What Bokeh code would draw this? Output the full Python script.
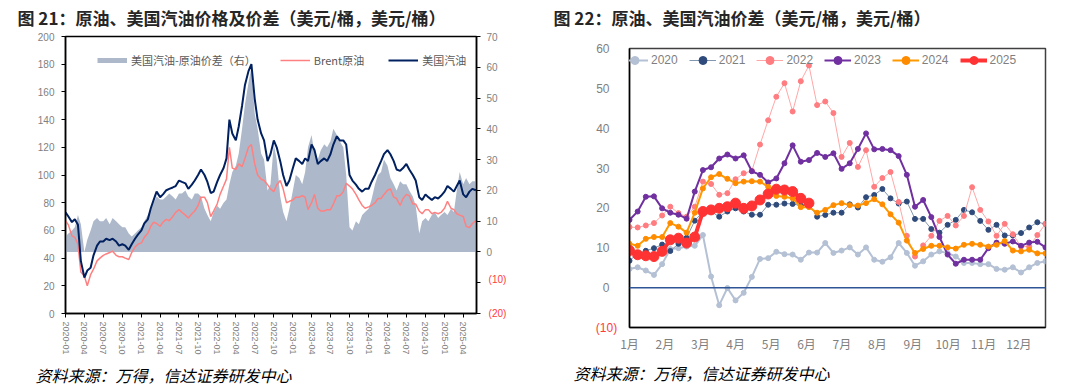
import pandas as pd
from bokeh.plotting import figure
from bokeh.models import (Range1d, LinearAxis, FixedTicker, DatetimeTickFormatter,
                          Legend, LegendItem, Span, Title)
from bokeh.layouts import row, column
from bokeh.embed import file_html
from bokeh.resources import INLINE

# ---------------- Left chart data (semi-monthly, 2020-01-01 .. 2025-06-01) ----------------
dates = pd.date_range("2020-01-01", "2025-06-01", freq="SMS")

gasoline = [
    73, 70, 66, 68, 64, 38, 26, 31, 33, 42, 49, 52, 52, 54, 53, 54, 52, 49, 50, 49, 46, 50, 54, 57,
    60, 65, 68, 76, 82, 88, 84, 86, 89, 90, 91, 92, 96, 95, 94, 90, 93, 96, 100, 104, 100, 95, 87, 88,
    95, 100, 105, 112, 140, 130, 125, 135, 150, 165, 175, 180, 155, 140, 130, 125, 110, 115, 125, 120, 110, 100, 92, 96,
    105, 112, 110, 108, 112, 110, 122, 118, 108, 110, 112, 110, 115, 122, 128, 125, 125, 122, 100, 96, 93, 90, 88, 90,
    90, 95, 100, 105, 110, 115, 118, 115, 110, 104, 103, 105, 108, 104, 100, 96, 84, 82, 86, 84, 82, 84, 83, 85,
    88, 92, 90, 88, 92, 96, 86, 84, 88, 90, 89,
]
brent = [
    67, 64, 56, 55, 50, 30, 27, 20, 28, 32, 38, 40, 42, 43, 44, 45, 42, 41, 41, 40, 39, 44, 48, 50,
    51, 55, 58, 63, 66, 65, 63, 66, 68, 67, 70, 73, 75, 73, 71, 69, 72, 74, 78, 84, 84, 80, 70, 74,
    79, 86, 92, 97, 120, 105, 104, 108, 106, 112, 120, 122, 108, 100, 97, 96, 93, 90, 88, 93, 96, 90, 80, 81,
    82, 84, 84, 85, 84, 75, 80, 86, 76, 74, 74, 75, 75, 79, 85, 85, 88, 94, 92, 90, 86, 82, 78, 76,
    77, 78, 80, 83, 83, 86, 89, 90, 84, 83, 78, 83, 86, 85, 79, 79, 74, 72, 75, 75, 72, 73, 72, 73,
    76, 81, 76, 75, 72, 71, 70, 63, 62, 65, 67,
]
spread = [
    5, 6, 7, 8, 12, 9, 0, 4, 7, 10, 11, 10, 10, 11, 9, 11, 10, 9, 8, 8, 6, 5, 6, 7,
    8, 10, 12, 14, 16, 18, 17, 17, 18, 19, 18, 17, 19, 19, 20, 18, 17, 19, 19, 18, 14, 12, 10, 13,
    15, 14, 16, 17, 22, 26, 28, 32, 40, 48, 55, 60, 45, 40, 32, 30, 20, 22, 35, 30, 18, 13, 10, 14,
    20, 25, 24, 22, 26, 34, 38, 32, 30, 33, 35, 34, 36, 40, 38, 36, 34, 25, 8, 7, 10, 9, 12, 13,
    14, 17, 22, 25, 26, 30, 28, 24, 22, 20, 23, 22, 22, 20, 18, 15, 6, 10, 11, 10, 12, 13, 11, 12,
    13, 12, 14, 13, 20, 26, 22, 24, 22, 23, 23,
]
quarter_ticks = pd.date_range("2020-01-01", "2025-04-01", freq="QS")

# ---------------- Right chart data (weekly spread by year) ----------------
week = list(range(52))
month_labels = ["1月", "2月", "3月", "4月", "5月", "6月", "7月", "8月", "9月", "10月", "11月", "12月"]
y2020 = [4.7, 5.1, 4.3, 3.2, 5.9, 9.7, 9.9, 10.3, 10.5, 13.2, 2.8, -4.4, -0.1, -3.2, -1.3, 2.7, 7.2, 7.4, 9.0, 8.4,
         8.3, 7.0, 8.8, 8.8, 11.2, 8.7, 9.3, 10.1, 8.3, 10.1, 7.0, 6.5, 7.6, 11.2, 8.7, 5.5, 6.6, 8.3, 9.1, 8.7,
         7.8, 6.2, 6.2, 5.9, 5.9, 4.7, 4.5, 5.1, 3.8, 5.1, 6.2, 6.6]
y2021 = [6.75, 8.6, 9.25, 9.9, 10.8, 9.2, 11.0, 12.5, 16.8, 19.1, 19.1, 17.8, 19.1, 19.9, 19.1, 18.3, 18.3, 20.8, 20.8, 21.1,
         21.0, 20.6, 21.0, 17.8, 18.25, 18.8, 18.8, 20.9, 20.1, 22.7, 23.25, 24.75, 22.4, 21.1, 21.6, 17.25, 17.25, 14.7, 13.8, 15.75,
         17.0, 19.5, 18.9, 16.75, 14.5, 15.75, 13.1, 13.1, 13.7, 15.1, 16.4, 16.0]
y2022 = [15.2, 15.1, 15.6, 16.2, 18.1, 20.3, 18.7, 17.8, 20.3, 26.6, 26.0, 23.3, 23.7, 27.2, 28.7, 29.3, 35.9, 42.0, 47.9, 51.3,
         44.2, 51.8, 55.75, 45.8, 46.7, 43.8, 32.8, 36.3, 30.3, 34.5, 25.3, 27.5, 29.0, 21.5, 13.0, 7.8, 10.6, 13.0, 16.75, 18.0,
         15.6, 18.0, 25.2, 19.5, 16.6, 13.0, 16.0, 13.4, 10.3, 10.3, 13.2, 16.0]
y2023 = [17.0, 19.1, 22.8, 22.9, 19.9, 18.8, 18.3, 17.3, 24.1, 29.5, 30.2, 32.4, 33.4, 32.4, 33.2, 29.2, 28.3, 26.4, 27.4, 31.2,
         35.7, 31.6, 32.0, 33.8, 32.8, 33.7, 29.8, 31.2, 34.8, 38.7, 34.7, 34.8, 34.5, 33.0, 28.3, 20.3, 22.0, 17.7, 12.7, 8.3,
         6.0, 7.0, 7.0, 7.0, 9.9, 11.3, 11.0, 11.6, 10.5, 11.3, 11.5, 10.1]
y2024 = [11.0, 10.5, 12.25, 12.7, 12.7, 16.2, 15.3, 13.8, 18.8, 24.9, 27.7, 28.5, 27.3, 26.2, 26.6, 26.7, 26.6, 25.3, 23.0, 22.8,
         22.4, 20.2, 20.2, 18.8, 19.5, 20.7, 21.2, 20.7, 20.6, 21.2, 22.2, 20.9, 18.4, 16.3, 11.8, 8.7, 9.7, 10.5, 10.5, 10.1,
         9.8, 10.75, 11.0, 10.75, 10.3, 10.75, 11.7, 9.3, 9.1, 9.5, 8.6, 8.6]
y2025 = [9.3, 8.25, 8.0, 7.8, 9.1, 12.0, 12.4, 11.2, 12.7, 19.1, 19.5, 19.9, 20.3, 21.2, 19.9, 20.5, 22.0, 23.5, 24.7, 24.5,
         24.1, 22.4, 21.2]

TITLE1 = "图 21：原油、美国汽油价格及价差（美元/桶，美元/桶）"
TITLE2 = "图 22：原油、美国汽油价差（美元/桶，美元/桶）"
SOURCE = "资料来源：万得，信达证券研发中心"

GRAY_TXT = "#7F7F7F"
RED_TXT = "#FF3B3B"
NUM_FONT = "Liberation Sans"
CJK_FONT = "Noto Sans CJK SC"


def spacer_axis(px, tick):
    """Invisible top axis with one hidden tick, reserving `px` pixels between frame and title."""
    return LinearAxis(ticker=FixedTicker(ticks=[tick]), major_label_overrides={tick: ""},
                      axis_line_color=None, major_tick_line_color=None, minor_tick_line_color=None,
                      major_tick_in=0, major_tick_out=px, minor_tick_out=0,
                      major_label_standoff=0, major_label_text_font_size="1px")


def style_title(p, text, offset):
    p.title.text = text
    p.title.text_font = CJK_FONT
    p.title.text_font_size = "17px"
    p.title.text_font_style = "bold"
    p.title.text_color = "#262626"
    p.title.align = "left"
    p.title.vertical_align = "top"
    p.title.offset = offset
    p.title.standoff = 0


# ======================= LEFT CHART =======================
x_start = pd.Timestamp("2020-01-01")
x_end = pd.Timestamp("2025-06-04")
p1 = figure(width=545, height=389, x_axis_type="datetime",
            x_range=Range1d(x_start, x_end), y_range=Range1d(0, 200),
            output_backend="svg", toolbar_location=None,
            min_border_left=65, min_border_right=69, min_border_top=36, min_border_bottom=76)
p1.extra_y_ranges = {"r": Range1d(-20, 70)}

area = p1.varea(x=dates, y1=0, y2=spread, y_range_name="r", fill_color="#ADB9CA", fill_alpha=1.0)
l_brent = p1.line(dates, brent, line_color="#FF8080", line_width=1.5)
l_gas = p1.line(dates, gasoline, line_color="#002060", line_width=2)
# hidden band renderer used only as the thin legend swatch of the spread area
area_key = p1.line(dates, spread, y_range_name="r", line_color="#ADB9CA", line_width=5, visible=False)

p1.xgrid.visible = False
p1.ygrid.visible = False
p1.outline_line_color = "#000000"
p1.outline_line_width = 1.5

ax = p1.xaxis[0]
ax.ticker = FixedTicker(ticks=[t.value / 1e6 for t in quarter_ticks])
ax.formatter = DatetimeTickFormatter(years="%Y-%m", months="%Y-%m", days="%Y-%m",
                                     hours="%Y-%m", minutes="%Y-%m", seconds="%Y-%m",
                                     milliseconds="%Y-%m", microseconds="%Y-%m")
ax.major_label_orientation = "vertical"

ay = p1.yaxis[0]
ay.ticker = FixedTicker(ticks=list(range(0, 201, 20)))

ay_r = LinearAxis(y_range_name="r", ticker=FixedTicker(ticks=list(range(-20, 71, 10))),
                  major_label_overrides={-10: "", -20: ""})
p1.add_layout(ay_r, "right")

for a in [ax, ay, ay_r]:
    a.axis_line_color = "#000000"
    a.axis_line_width = 1.5
    a.major_tick_line_color = "#000000"
    a.major_tick_in = 0
    a.major_tick_out = 4
    a.minor_tick_line_color = None
    a.major_label_text_color = GRAY_TXT
    a.major_label_text_font = NUM_FONT
    a.major_label_text_font_size = "10px"
ax.major_label_text_font_size = "9px"
ax.major_label_standoff = 4
ay.major_label_standoff = 7
ay_r.major_label_standoff = 6

# red negative labels of the right axis, drawn as the axis label
ay_r.axis_label = "(10)\n(20)\n "
ay_r.axis_label_orientation = "horizontal"
ay_r.axis_label_align = "start"
ay_r.axis_label_standoff = -12
ay_r.axis_label_text_color = RED_TXT
ay_r.axis_label_text_font = NUM_FONT
ay_r.axis_label_text_font_size = "10px"
ay_r.axis_label_text_font_style = "normal"
ay_r.axis_label_text_line_height = 3.08

leg1 = Legend(items=[LegendItem(label="美国汽油-原油价差（右）", renderers=[area_key]),
                     LegendItem(label="Brent原油", renderers=[l_brent]),
                     LegendItem(label="美国汽油", renderers=[l_gas])],
              orientation="horizontal", location=(32, 243),
              glyph_width=30, glyph_height=20, label_height=20, label_standoff=4, spacing=24,
              padding=0, margin=0, background_fill_alpha=0, border_line_color=None,
              inactive_fill_alpha=0,
              label_text_font=CJK_FONT, label_text_font_size="11px", label_text_color="#595959")
p1.add_layout(leg1)

p1.add_layout(spacer_axis(5, dates[60].value / 1e6), "above")
style_title(p1, TITLE1, -48)

src1 = Title(text=SOURCE, align="left", offset=-30,
             text_font=CJK_FONT, text_font_size="16px", text_font_style="italic",
             text_color="#000000", standoff=6)
p1.add_layout(src1, "below")

# ======================= RIGHT CHART =======================
p2 = figure(width=528, height=389, x_range=Range1d(0, 51), y_range=Range1d(-10, 60),
            output_backend="svg", toolbar_location=None,
            min_border_left=84, min_border_right=28, min_border_top=48, min_border_bottom=61)
p2.xgrid.visible = False
p2.ygrid.visible = False
p2.outline_line_color = "#404040"
p2.outline_line_width = 1.5

p2.add_layout(Span(location=0, dimension="width", line_color="#2F5597", line_width=1.5))

series = [
    ("2020", y2020, "#B4C0D4", "#B4C0D4", 2, 5),
    ("2021", y2021, "#8497B0", "#2F4B7C", 1, 5),
    ("2022", y2022, "#FFA7A7", "#FF7C80", 1, 5),
    ("2023", y2023, "#7030A0", "#7030A0", 2, 5),
    ("2024", y2024, "#FF9900", "#FF8C00", 2, 5),
    ("2025", y2025, "#FF3333", "#FF3333", 4, 10),
]
items = []
for name, ys, lc, mc, lw, ms in series:
    xs = week[:len(ys)]
    r_line = p2.line(xs, ys, line_color=lc, line_width=lw)
    r_pts = p2.scatter(xs, ys, size=ms, fill_color=mc, line_color=mc)
    items.append(LegendItem(label=name, renderers=[r_line, r_pts]))

leg2 = Legend(items=items, orientation="horizontal", location=(-8, 257),
              glyph_width=27, glyph_height=20, label_height=20, label_standoff=3, spacing=11,
              padding=0, margin=0, background_fill_alpha=0, border_line_color=None,
              label_text_font=NUM_FONT, label_text_font_size="12px", label_text_color=GRAY_TXT)
p2.add_layout(leg2)

month_pos = [k * 4.34 for k in range(12)]
bx = p2.xaxis[0]
bx.ticker = FixedTicker(ticks=month_pos)
bx.major_label_overrides = {pos: lab for pos, lab in zip(month_pos, month_labels)}
ly = p2.yaxis[0]
ly.ticker = FixedTicker(ticks=list(range(-10, 61, 10)))
ly.major_label_overrides = {-10: ""}
for a in [bx, ly]:
    a.axis_line_color = "#000000"
    a.axis_line_width = 1.5
    a.major_tick_line_color = None
    a.minor_tick_line_color = None
    a.major_label_text_color = GRAY_TXT
    a.major_label_text_font = NUM_FONT
    a.major_label_text_font_size = "12px"
bx.major_label_text_font = CJK_FONT
bx.major_label_standoff = 1
ly.major_label_standoff = 14

ly.axis_label = "(10)"
ly.axis_label_orientation = "horizontal"
ly.axis_label_align = "start"
ly.axis_label_standoff = -24
ly.axis_label_text_color = RED_TXT
ly.axis_label_text_font = NUM_FONT
ly.axis_label_text_font_size = "12px"
ly.axis_label_text_font_style = "normal"

p2.add_layout(spacer_axis(17, 25.0), "above")
style_title(p2, TITLE2, -76)

src2 = Title(text=SOURCE, align="left", offset=-56,
             text_font=CJK_FONT, text_font_size="16px", text_font_style="italic",
             text_color="#000000", standoff=9)
p2.add_layout(src2, "below")

layout = row(p1, column(p2))
open("out.html", "w").write(file_html(layout, INLINE))
